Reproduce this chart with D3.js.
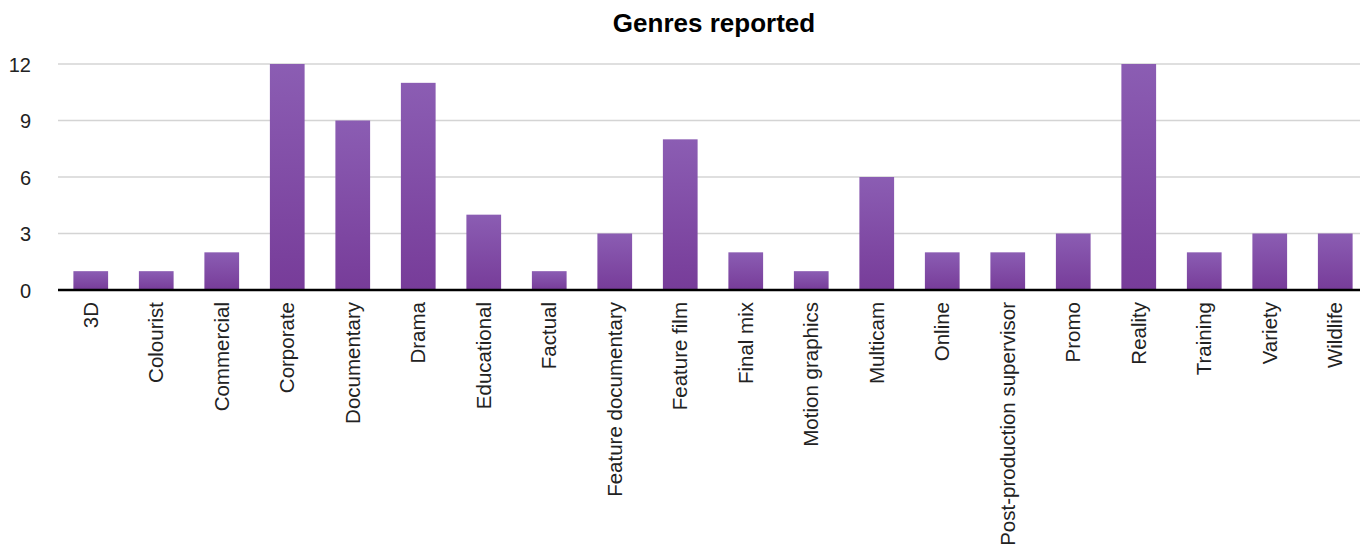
<!DOCTYPE html>
<html>
<head>
<meta charset="utf-8">
<script src="https://cdn.jsdelivr.net/npm/d3@7"></script>
<style>
  body { margin: 0; background: #fff; }
  svg { display: block; font-family: "Helvetica Neue", Helvetica, "Liberation Sans", Arial, sans-serif; }
</style>
</head>
<body>
<script>
var categories = ['3D', 'Colourist', 'Commercial', 'Corporate', 'Documentary', 'Drama', 'Educational',
  'Factual', 'Feature documentary', 'Feature film', 'Final mix', 'Motion graphics', 'Multicam',
  'Online', 'Post-production supervisor', 'Promo', 'Reality', 'Training', 'Variety', 'Wildlife'];
var counts = [1, 1, 2, 12, 9, 11, 4, 1, 3, 8, 2, 1, 6, 2, 2, 3, 12, 2, 3, 3];
var yTicks = [0, 3, 6, 9, 12];
var title = 'Genres reported';

var width = 1360, height = 549;

var svg = d3.select('body').append('svg')
  .attr('width', width)
  .attr('height', height);

var defs = svg.append('defs');
var grad = defs.append('linearGradient')
  .attr('id', 'barGrad')
  .attr('x1', 0).attr('y1', 0).attr('x2', 0).attr('y2', 1);
grad.append('stop').attr('offset', '0%').attr('stop-color', '#8b5db3');
grad.append('stop').attr('offset', '100%').attr('stop-color', '#773c99');

var x = d3.scaleBand()
  .domain(categories)
  .range([58, 1368])
  .paddingInner(0.47)
  .paddingOuter(0.235);

var y = d3.scaleLinear()
  .domain([0, 12])
  .range([290, 64]);

// gridlines
svg.append('g')
  .selectAll('line')
  .data(yTicks.filter(function(d) { return d > 0; }))
  .enter().append('line')
  .attr('x1', 58).attr('x2', width)
  .attr('y1', function(d) { return y(d); })
  .attr('y2', function(d) { return y(d); })
  .style('stroke', '#d4d4d4')
  .style('stroke-width', 1.5);

// y axis labels
var yAxis = d3.axisLeft(y).tickValues(yTicks).tickSize(0).tickPadding(0);
var gy = svg.append('g')
  .attr('transform', 'translate(31,0)')
  .call(yAxis);
gy.select('.domain').remove();
gy.selectAll('text')
  .style('font-size', '20px')
  .style('fill', '#222')
  .attr('dy', '0.35em');

// bars
svg.append('g')
  .selectAll('rect')
  .data(counts)
  .enter().append('rect')
  .attr('x', function(d, i) { return x(categories[i]); })
  .attr('width', x.bandwidth())
  .attr('y', function(d) { return y(d); })
  .attr('height', function(d) { return y(0) - y(d); })
  .style('fill', 'url(#barGrad)');

// baseline
svg.append('line')
  .attr('x1', 58).attr('x2', width)
  .attr('y1', y(0)).attr('y2', y(0))
  .style('stroke', '#000')
  .style('stroke-width', 2.5);

// x axis labels
var xAxis = d3.axisBottom(x).tickSize(0).tickPadding(0);
var gx = svg.append('g')
  .attr('transform', 'translate(0,' + y(0) + ')')
  .call(xAxis);
gx.select('.domain').remove();
gx.selectAll('text')
  .style('font-size', '20.5px')
  .style('fill', '#222')
  .style('text-anchor', 'end')
  .attr('transform', 'rotate(-90)')
  .attr('x', -12)
  .attr('y', 0)
  .attr('dy', '0.35em');

// title
svg.append('text')
  .attr('x', 714)
  .attr('y', 32)
  .style('text-anchor', 'middle')
  .style('font-size', '26px')
  .style('font-weight', 'bold')
  .style('fill', '#000')
  .text(title);
</script>
</body>
</html>
